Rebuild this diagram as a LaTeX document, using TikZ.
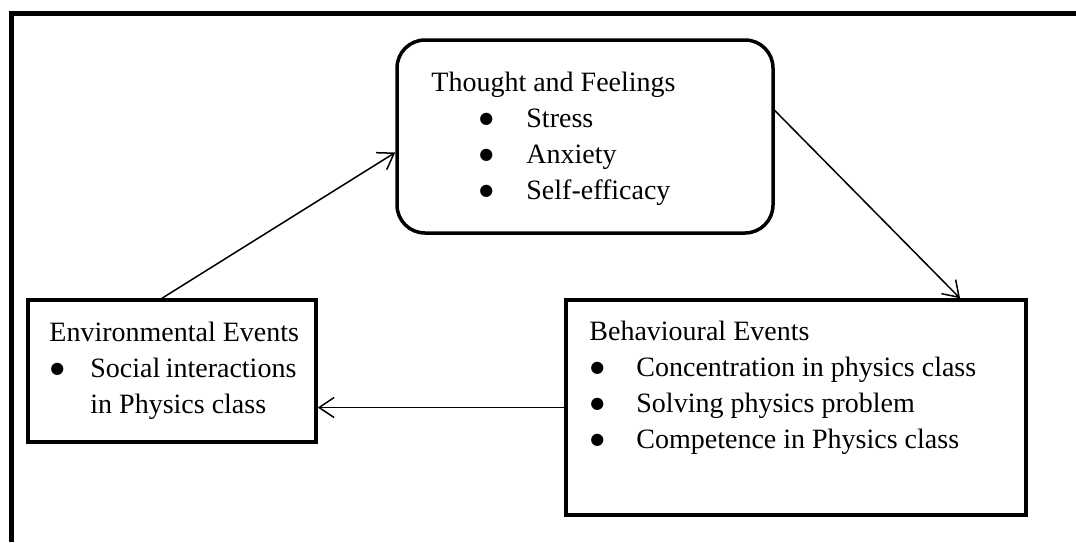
\documentclass[tikz,border=0pt]{standalone}
\usepackage{fontspec}
\setmainfont{Liberation Serif}
\newfontfamily\symfont{DejaVu Sans}
\usetikzlibrary{arrows.meta}

\tikzset{
  box/.style={draw, line width=1.75pt, inner sep=0pt},
  conn/.style={line width=0.75pt, -{Straight Barb[length=7.5pt,width=10pt]}},
  txt/.style={anchor=base west, inner sep=0pt, align=left,
    font=\fontsize{14}{18}\selectfont},
}
\newcommand{\bul}[1]{\makebox[#1][l]{\raisebox{1.6pt}{\symfont\fontsize{8}{8}\selectfont ●}}}

\begin{document}
\begin{tikzpicture}[x=0.5pt, y=-0.5pt]
		\useasboundingbox (0,0) rectangle (1076,542);
		% frame
		\draw[line width=2.25pt, line join=miter] (11.7,542) -- (11.7,13.5) -- (1076,13.5);

		\node[box, rounded corners=14pt, minimum width=188pt, minimum height=96.5pt] (thought) at (585,136.5) {};
		% base anchor = last line
		\node[txt] (thoughttxt) at (431,199) {Thought and Feelings\\
			\hspace*{24pt}\bul{23.5pt}Stress\\
			\hspace*{24pt}\bul{23.5pt}Anxiety\\
			\hspace*{24pt}\bul{23.5pt}Self-efficacy};

		\node[box, minimum width=144pt, minimum height=71pt] (env) at (172,371) {};
		\node[txt] (envtxt) at (49,413) {Environmental Events\\
			\hspace*{0.5pt}\bul{20pt}\makebox[103pt][s]{Social interactions}\\
			\hspace*{20.5pt}in Physics class};

		\node[box, minimum width=230pt, minimum height=107.5pt] (beh) at (796,407.5) {};
		\node[txt] (behtxt) at (589,448) {Behavioural Events\\
			\hspace*{0.5pt}\bul{23pt}Concentration in physics class\\
			\hspace*{0.5pt}\bul{23pt}Solving physics problem\\
			\hspace*{0.5pt}\bul{23pt}Competence in Physics class};

		\draw[conn] ([xshift=-5pt]env.north) -- ([yshift=-8pt]thought.west);
		\draw[conn] ([yshift=13pt]thought.east) -- ([xshift=82pt]beh.north);
		\draw[conn] (beh.west) -- (beh.west -| env.east);
\end{tikzpicture}
\end{document}
